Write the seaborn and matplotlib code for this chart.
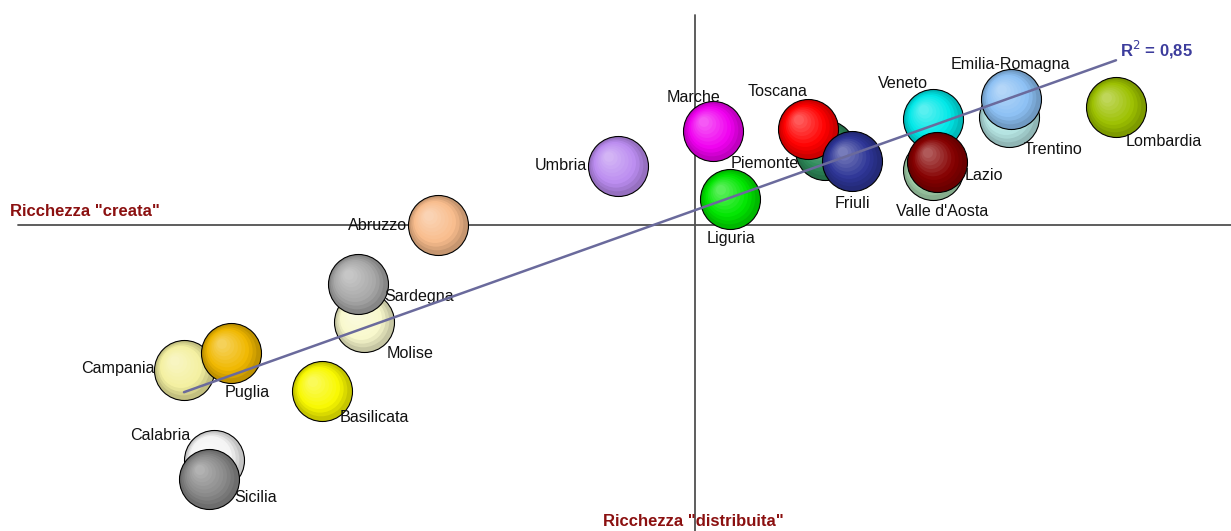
import numpy as np
import pandas as pd
import matplotlib
matplotlib.use('Agg')
import matplotlib.pyplot as plt
import matplotlib.colors as mcolors
import seaborn as sns

# ─── Data (draw order: later regions sit on top) ─────────────────────────────
regions = ['Umbria', 'Marche', 'Liguria', 'Piemonte', 'Toscana', 'Friuli',
           "Valle d'Aosta", 'Veneto', 'Lazio', 'Trentino', 'Emilia-Romagna',
           'Lombardia', 'Abruzzo', 'Molise', 'Sardegna', 'Campania', 'Puglia',
           'Basilicata', 'Calabria', 'Sicilia']
# "distribuita" (x) and "creata" (y), centred on the crossing of the axes
distribuita = [-0.77, 0.18, 0.35, 1.30, 1.13, 1.57,
               2.38, 2.38, 2.42, 3.14, 3.16,
               4.21, -2.57, -3.31, -3.37, -5.11, -4.64,
               -3.73, -4.81, -4.86]
creata = [0.59, 0.94, 0.26, 0.75, 0.96, 0.64,
          0.55, 1.06, 0.63, 1.08, 1.26,
          1.18, 0.00, -0.97, -0.59, -1.45, -1.28,
          -1.66, -2.35, -2.54]
colori = ['#bb8cf0', '#f000f0', '#00e600', '#2e8b5a', '#ff0000', '#2d3596',
          '#a8d8b0', '#00e8e8', '#850000', '#b4e4e2', '#8cc0f4',
          '#9cc000', '#f8bc8c', '#f8f8cc', '#a8a8a8', '#f4f0a0', '#f0b800',
          '#f8f800', '#f4f4f4', '#888888']

# label offsets in pixels (dx right, dy down) relative to each bubble
label_off = {
    'Umbria': (-57, 0), 'Marche': (-19, -34), 'Liguria': (1, 39),
    'Piemonte': (-60, 14), 'Toscana': (-30, -37), 'Friuli': (0, 43),
    "Valle d'Aosta": (9, 42), 'Veneto': (-30, -35), 'Lazio': (47, 13),
    'Trentino': (44, 33), 'Emilia-Romagna': (-1, -35), 'Lombardia': (48, 34),
    'Abruzzo': (-60, 1), 'Molise': (46, 32), 'Sardegna': (61, 12),
    'Campania': (-66, -2), 'Puglia': (16, 39), 'Basilicata': (52, 27),
    'Calabria': (-54, -24), 'Sicilia': (47, 18),
}

df = pd.DataFrame({'regione': regions, 'x': distribuita, 'y': creata, 'col': colori})

sns.set_style('white')
plt.rcParams['font.family'] = ['Liberation Sans', 'DejaVu Sans']

fig = plt.figure(figsize=(12.31, 5.31), dpi=100)
ax = fig.add_axes([0, 0, 1, 1])
ax.set_xlim(-6.95, 5.36)
ax.set_ylim(-3.06, 2.25)
ax.axis('off')

PX = 0.01  # data units per pixel
R = 30     # bubble radius, pixels

# axes crossing at the origin
ax.plot([-6.77, 5.36], [0, 0], color='#505050', lw=1.3, zorder=1)
ax.plot([0, 0], [-3.06, 2.10], color='#505050', lw=1.3, zorder=1)


def shade(base, t):
    rgb = np.array(mcolors.to_rgb(base))
    dark = rgb * 0.8
    light = rgb + (1 - rgb) * 0.35
    if t < 0.3:
        c = dark + (rgb - dark) * (t / 0.3)
    else:
        c = rgb + (light - rgb) * ((t - 0.3) / 0.7)
    return np.clip(c, 0, 1)


n_layers = 10
for i, row in df.iterrows():
    z = 10 + i * 2
    sns.scatterplot(x=[row.x], y=[row.y], s=(2 * R * 0.72) ** 2, color=shade(row.col, 0),
                    edgecolor='black', linewidth=0.8, ax=ax, zorder=z, legend=False)
    for k in range(1, n_layers):
        t = k / (n_layers - 1)
        r = R * (1 - 0.8 * t) - 1
        cx = row.x - 0.3 * R * t * PX
        cy = row.y + 0.3 * R * t * PX
        ax.scatter([cx], [cy], s=(2 * r * 0.72) ** 2, color=[shade(row.col, t)],
                   edgecolors='none', zorder=z + 0.5)
    dx, dy = label_off[row.regione]
    ax.annotate(row.regione, (row.x, row.y), xytext=(dx * 0.72, -dy * 0.72),
                textcoords='offset points', ha='center', va='center',
                fontsize=11.6, color='#111111', zorder=z + 1)

# trend line
sns.regplot(data=df, x='x', y='y', scatter=False, ci=None, truncate=True, ax=ax,
            line_kws=dict(color='#6a6a9c', lw=1.8, zorder=100))
ax.axis('off')
ax.set_xlim(-6.95, 5.36)
ax.set_ylim(-3.06, 2.25)

ax.text(4.25, 1.75, r'R$^2$ = 0,85', color='#3c3c9c', fontsize=12, fontweight='bold',
        ha='left', va='center', zorder=101)
ax.text(-6.85, 0.14, 'Ricchezza "creata"', color='#8b1010', fontsize=12,
        fontweight='bold', ha='left', va='center')
ax.text(-0.02, -2.97, 'Ricchezza "distribuita"', color='#8b1010', fontsize=12,
        fontweight='bold', ha='center', va='center')

fig.savefig('out.png', dpi=100, facecolor='white')
